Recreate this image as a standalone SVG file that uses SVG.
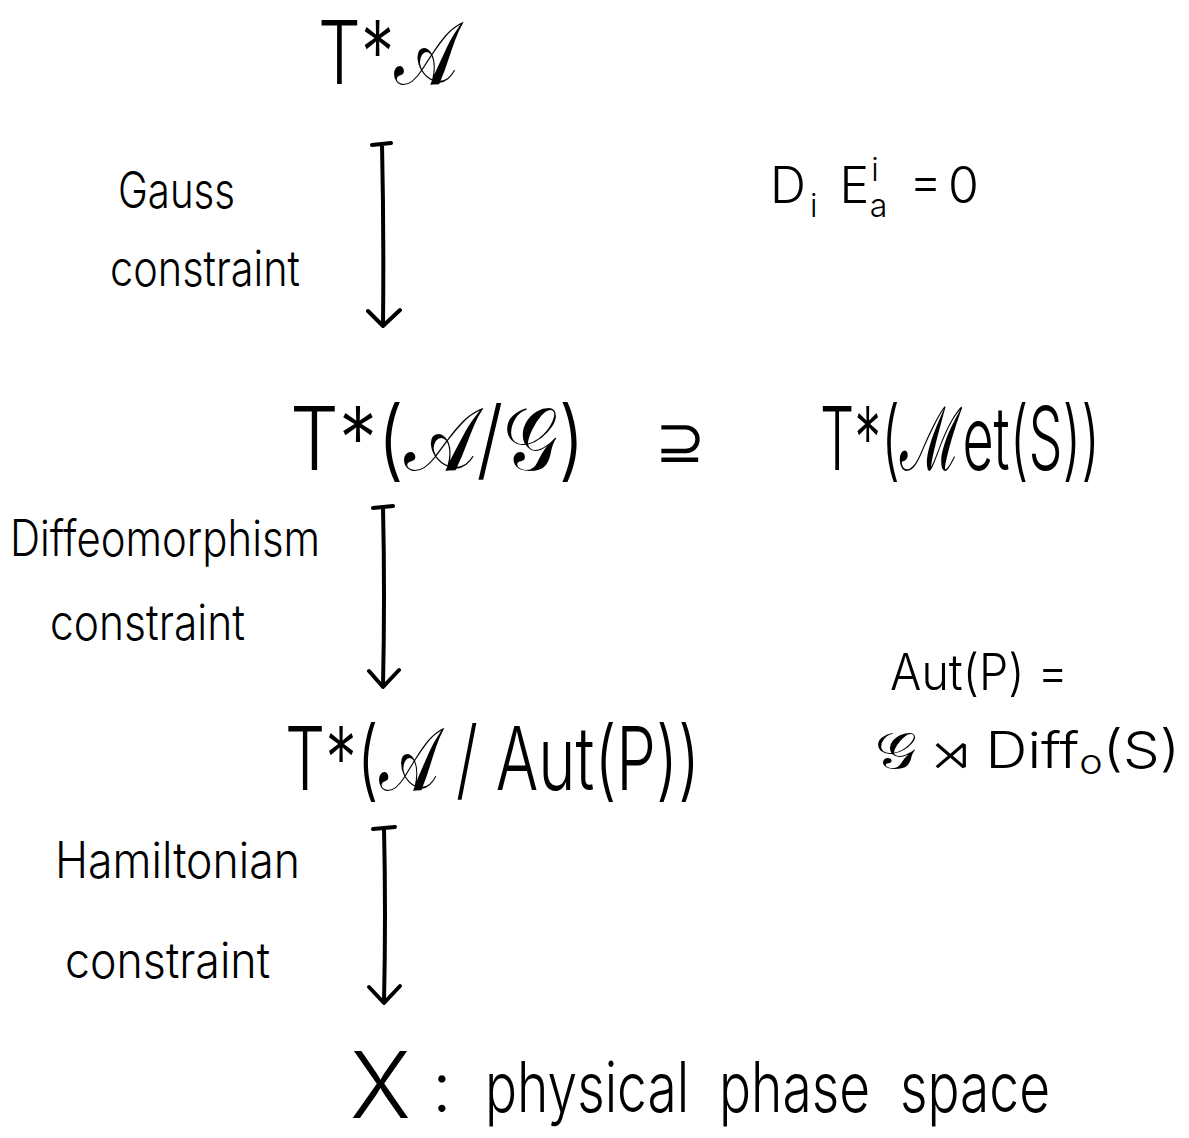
<svg xmlns="http://www.w3.org/2000/svg" width="1189" height="1138" viewBox="0 0 1189 1138">
<style>
text{font-family:"Inter","Liberation Sans","DejaVu Sans",sans-serif;font-weight:300;fill:#000}
.big{font-size:88px}
.lbl{font-size:50px}
.arr{fill:none;stroke:#000;stroke-width:4;stroke-linecap:round;stroke-linejoin:round}
</style>
<rect width="1189" height="1138" fill="#fff"/>
<g id="n-TA"><text class="big" x="318" y="84" textLength="140" lengthAdjust="spacingAndGlyphs">T*𝒜</text></g>
<g id="n-gauss-label"><text class="lbl" x="118" y="208" textLength="117" lengthAdjust="spacingAndGlyphs">Gauss</text><text class="lbl" x="110" y="286" textLength="190" lengthAdjust="spacingAndGlyphs">constraint</text></g>
<g id="n-gauss-eq"><text class="lbl" x="770" y="203">D<tspan font-size="32" dy="14" dx="4">i</tspan><tspan dy="-14" dx="22">E</tspan><tspan font-size="32" dy="-22" dx="2">i</tspan><tspan font-size="32" dx="-9" dy="36">a</tspan><tspan dy="-14" dx="22">=</tspan><tspan dx="6">0</tspan></text></g>
<g id="n-TAG"><text class="big" x="290" y="470" textLength="295" lengthAdjust="spacingAndGlyphs">T*(𝒜/𝒢)</text><text x="655" y="462" font-size="60">⊇</text><text class="big" x="820" y="470" textLength="280" lengthAdjust="spacingAndGlyphs">T*(ℳet(S))</text></g>
<g id="n-diff-label"><text class="lbl" x="10" y="556" textLength="310" lengthAdjust="spacingAndGlyphs">Diffeomorphism</text><text class="lbl" x="50" y="640" textLength="195" lengthAdjust="spacingAndGlyphs">constraint</text></g>
<g id="n-TAAut"><text class="big" x="285" y="790" textLength="415" lengthAdjust="spacingAndGlyphs">T*(𝒜 / Aut(P))</text></g>
<g id="n-aut-eq"><text class="lbl" x="890" y="690" font-size="54" textLength="178" lengthAdjust="spacingAndGlyphs">Aut(P) =</text><text class="lbl" x="875" y="768" font-size="58" textLength="305" lengthAdjust="spacingAndGlyphs">𝒢 ⋊ Diff<tspan font-size="34" dy="6">o</tspan><tspan dy="-6">(S)</tspan></text></g>
<g id="n-ham-label"><text class="lbl" x="55" y="878" textLength="245" lengthAdjust="spacingAndGlyphs">Hamiltonian</text><text class="lbl" x="65" y="978" textLength="205" lengthAdjust="spacingAndGlyphs">constraint</text></g>
<g id="n-X"><text x="350" y="1118" font-size="92">X</text><text x="432" y="1112" font-size="70">:</text><text x="485" y="1112" font-size="70" xml:space="preserve" textLength="565" lengthAdjust="spacingAndGlyphs">physical  phase  space</text></g>
<g id="connectors">
<path class="arr" d="M372 145 L391 143 M382 144 Q384 235 383 325 M368 311 L383 326 L400 310"/>
<path class="arr" d="M373 508 L393 506 M383 507 Q385 595 383 686 M369 671 L383 687 L399 670"/>
<path class="arr" d="M373 829 L395 827 M384 828 Q386 915 384 1002 M369 987 L384 1003 L400 986"/>
</g>
</svg>
